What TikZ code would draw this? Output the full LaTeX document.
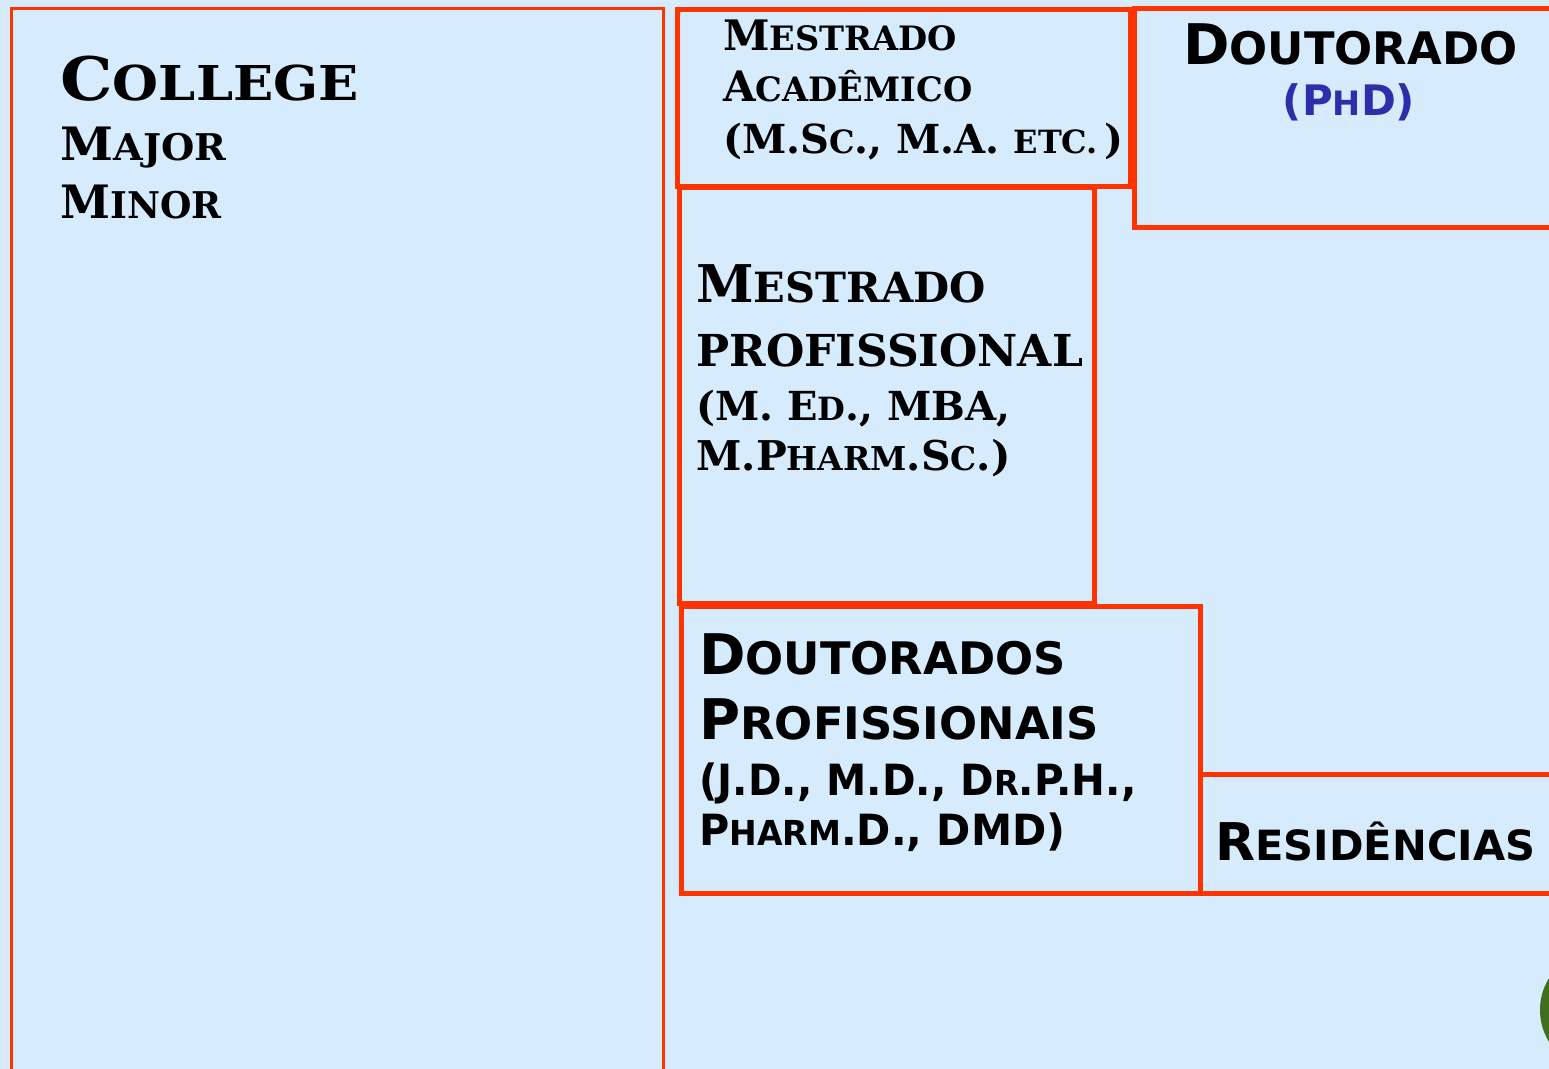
\documentclass[tikz,border=0pt]{standalone}
\usepackage{fontspec}
\usepackage{graphicx}
\setmainfont{DejaVu Serif}
\newfontfamily\condfont{DejaVu Sans}
\definecolor{paleblue}{RGB}{214,235,252}
\definecolor{boxred}{RGB}{255,51,0}
\definecolor{phdblue}{RGB}{46,46,170}
\definecolor{leafgreen}{RGB}{63,110,30}
% small capitals made by hand
\newcommand\sm[1]{\scalebox{0.8}{#1}}

\begin{document}
\begin{tikzpicture}[x=0.5pt, y=-0.5pt]
        \tikzstyle{every node}=[inner sep=0pt, anchor=base west, font=\bfseries]
        \tikzstyle{thinbox}=[draw=boxred, line width=1.5pt]
        \tikzstyle{thickbox}=[draw=boxred, line width=2.5pt]

        \fill[paleblue] (0,0) rectangle (1549,1069);
        \useasboundingbox (0,0) rectangle (1549,1069);
        \clip (0,0) rectangle (1549,1069);

% the boxes
        \draw[thinbox] (11,9) rectangle (663,1090);
        \draw[thickbox] (677,10) rectangle (1130,187);
        \draw[thickbox] (1134,9) rectangle (1570,228);
        \draw[thickbox] (679,188) rectangle (1094,604);
        \draw[thickbox] (681,607) rectangle (1200,893);
        \draw[thickbox] (1200,774) rectangle (1570,893);
        \fill[leafgreen] (1601,1010) circle (61);

% college
        \node (college) [font=\bfseries\fontsize{30}{30}\selectfont] at (60,101) {\scalebox{1.1}[1]{C\sm{OLLEGE}}};
        \node (major) [font=\bfseries\fontsize{23}{23}\selectfont] at (60,161) {\scalebox{1.04}[1]{M\sm{AJOR}}};
        \node (minor) [font=\bfseries\fontsize{23}{23}\selectfont] at (60,219) {\scalebox{0.98}[1]{M\sm{INOR}}};

% mestrado academico
        \node (acad1) [font=\bfseries\fontsize{21}{21}\selectfont] at (723,51) {M\sm{ESTRADO}};
        \node (acad2) [font=\bfseries\fontsize{21}{21}\selectfont] at (723,102) {A\sm{CADÊMICO}};
        \node (acad3) [font=\bfseries\fontsize{20}{20}\selectfont] at (723,154) {(M.S\sm{C}., M.A. \sm{ETC.}\,)};

% doutorado
        \node (phd1) [font=\condfont\bfseries\fontsize{28}{28}\selectfont] at (1183,65) {D\sm{OUTORADO}};
        \node (phd2) [font=\condfont\bfseries\fontsize{21}{21}\selectfont, text=phdblue, anchor=base] at (1349,116) {(P\sm{H}D)};

% mestrado profissional
        \node (prof1) [font=\bfseries\fontsize{26}{26}\selectfont] at (696,303) {M\sm{ESTRADO}};
        \node (prof2) [font=\bfseries\fontsize{27.5}{27.5}\selectfont] at (696,367) {\sm{PROFISSIONAL}};
        \node (prof3) [font=\bfseries\fontsize{20}{20}\selectfont] at (696,421) {(M. E\sm{D}., MBA,};
        \node (prof4) [font=\bfseries\fontsize{20.5}{20.5}\selectfont] at (696,471) {M.P\sm{HARM}.S\sm{C}.)};

% doutorados profissionais
        \node (dprof1) [font=\condfont\bfseries\fontsize{28}{28}\selectfont] at (699,675) {D\sm{OUTORADOS}};
        \node (dprof2) [font=\condfont\bfseries\fontsize{28}{28}\selectfont] at (699,740) {P\sm{ROFISSIONAIS}};
        \node (dprof3) [font=\condfont\bfseries\fontsize{21.5}{21.5}\selectfont] at (699,795) {\scalebox{0.94}[1]{(J.D., M.D., D\sm{R}.P.H.,}};
        \node (dprof4) [font=\condfont\bfseries\fontsize{21.5}{21.5}\selectfont] at (699,845) {\scalebox{0.96}[1]{P\sm{HARM}.D., DMD)}};

% residencias
        \node (resid) [font=\condfont\bfseries\fontsize{26}{26}\selectfont] at (1215,860) {R\sm{ESIDÊNCIAS}};

    \end{tikzpicture}
\end{document}
